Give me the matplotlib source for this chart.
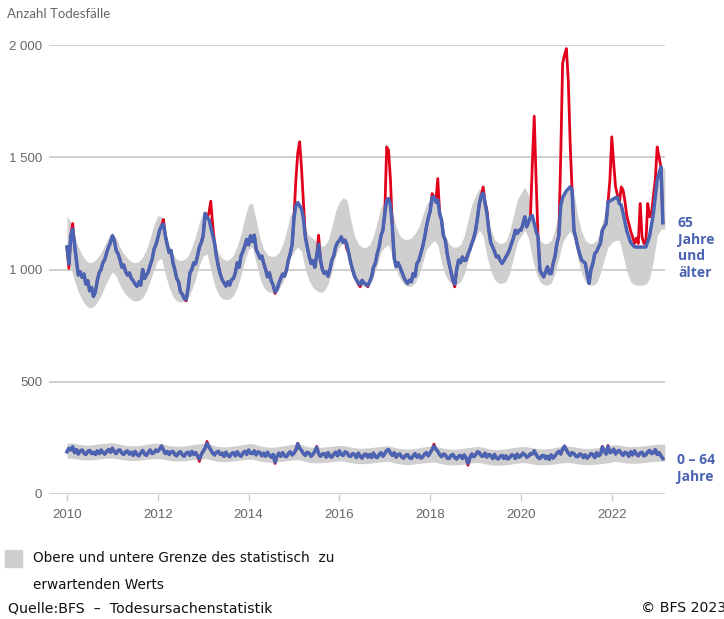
import numpy as np
import matplotlib.pyplot as plt

# Beobachtete Todesfälle pro Woche, Halbmonatswerte ab Jan 2010
obs_65 = [
    1100, 1005, 1150, 1205, 1110, 1040, 975, 990, 965, 980, 935, 950,
    905, 920, 880, 900, 950, 985, 1000, 1030, 1045, 1075, 1100, 1120,      # 2010
    1150, 1130, 1085, 1070, 1045, 1010, 1020, 990, 975, 985, 960, 950,
    935, 925, 945, 930, 1000, 960, 975, 990, 1020, 1045, 1090, 1110,       # 2011
    1140, 1175, 1195, 1223, 1150, 1110, 1075, 1085, 1030, 1000, 960, 945,
    900, 890, 870, 860, 915, 985, 1000, 1030, 1025, 1060, 1100, 1120,      # 2012
    1150, 1250, 1230, 1250, 1304, 1200, 1119, 1060, 1015, 980, 955, 940,
    926, 945, 930, 955, 960, 985, 1030, 1010, 1060, 1080, 1104, 1134,      # 2013
    1110, 1150, 1125, 1153, 1090, 1071, 1050, 1060, 1027, 1000, 967, 985,
    950, 930, 893, 910, 938, 960, 980, 970, 997, 1040, 1071, 1110,         # 2014
    1230, 1400, 1520, 1569, 1450, 1300, 1145, 1101, 1060, 1027, 1040, 1010,
    1060, 1153, 1042, 1000, 982, 990, 970, 1000, 1042, 1060, 1101, 1120,   # 2015
    1130, 1145, 1120, 1131, 1090, 1071, 1030, 997, 970, 952, 935, 923,
    952, 940, 935, 923, 945, 967, 1010, 1027, 1070, 1101, 1150, 1175,      # 2016
    1249, 1546, 1531, 1398, 1190, 1050, 1012, 1030, 1012, 990, 967, 950,
    938, 952, 945, 982, 970, 1027, 1040, 1070, 1101, 1140, 1190, 1230,     # 2017
    1260, 1338, 1324, 1300, 1405, 1250, 1220, 1150, 1131, 1070, 1027, 990,
    952, 923, 1000, 1042, 1030, 1056, 1040, 1042, 1070, 1090, 1116, 1140,  # 2018
    1175, 1230, 1294, 1330, 1368, 1300, 1264, 1175, 1120, 1101, 1080, 1056,
    1060, 1040, 1027, 1040, 1056, 1070, 1090, 1116, 1140, 1175, 1160, 1175,  # 2019
    1175, 1200, 1235, 1190, 1210, 1235, 1472, 1683, 1398, 1145, 997, 980,
    967, 990, 1012, 982, 982, 1027, 1060, 1116, 1150, 1500, 1918, 1955,    # 2020
    1984, 1843, 1561, 1353, 1175, 1140, 1101, 1070, 1042, 1035, 1027, 980,
    938, 1000, 1027, 1071, 1080, 1100, 1116, 1175, 1190, 1205, 1300, 1398,  # 2021
    1591, 1472, 1368, 1330, 1294, 1368, 1353, 1300, 1235, 1205, 1170, 1145,
    1116, 1140, 1116, 1294, 1145, 1116, 1116, 1294, 1235, 1250, 1324, 1400,  # 2022
    1546, 1500, 1457, 1208,                                                 # 2023
]
# Obere / untere Grenze des erwarteten Werts, Monatswerte Jan 2010 - Mär 2023
hi_65 = [
    1240, 1210, 1150, 1100, 1065, 1040, 1030, 1035, 1050, 1075, 1110, 1145,
    1165, 1140, 1100, 1070, 1050, 1035, 1030, 1035, 1055, 1090, 1140, 1200,
    1240, 1235, 1170, 1110, 1070, 1045, 1040, 1045, 1060, 1100, 1150, 1210,
    1255, 1260, 1190, 1120, 1075, 1050, 1040, 1045, 1065, 1105, 1160, 1230,
    1290, 1295, 1220, 1140, 1090, 1065, 1058, 1060, 1075, 1110, 1170, 1240,
    1270, 1298, 1270, 1180, 1150, 1140, 1120, 1105, 1105, 1130, 1190, 1260,
    1300, 1320, 1310, 1220, 1150, 1115, 1100, 1098, 1110, 1150, 1210, 1280,
    1300, 1316, 1260, 1190, 1150, 1135, 1134, 1140, 1160, 1190, 1240, 1290,
    1310, 1331, 1310, 1220, 1150, 1115, 1100, 1100, 1110, 1150, 1220, 1290,
    1330, 1361, 1340, 1250, 1180, 1135, 1118, 1116, 1125, 1170, 1240, 1310,
    1340, 1368, 1330, 1240, 1170, 1130, 1116, 1116, 1130, 1180, 1250, 1320,
    1350, 1368, 1340, 1240, 1170, 1130, 1116, 1116, 1130, 1180, 1240, 1300,
    1310, 1320, 1324, 1250, 1170, 1120, 1101, 1100, 1100, 1100, 1150, 1250,
    1400, 1457, 1450,
]
lo_65 = [
    1040, 1010, 950, 900, 865, 840, 829, 835, 855, 885, 925, 960,
    990, 970, 930, 900, 880, 865, 859, 862, 875, 905, 950, 1000,
    1040, 1050, 980, 920, 880, 860, 855, 858, 875, 910, 960, 1020,
    1060, 1070, 1000, 930, 890, 870, 866, 868, 885, 920, 975, 1040,
    1090, 1100, 1030, 960, 920, 902, 898, 900, 912, 940, 990, 1050,
    1080, 1100, 1080, 1000, 950, 920, 905, 898, 905, 935, 990, 1060,
    1100, 1120, 1110, 1030, 970, 940, 926, 924, 932, 965, 1020, 1080,
    1100, 1110, 1060, 1000, 960, 935, 924, 926, 940, 975, 1030, 1090,
    1110, 1130, 1110, 1030, 975, 945, 935, 935, 945, 980, 1040, 1100,
    1140, 1175, 1150, 1060, 995, 955, 940, 938, 945, 985, 1050, 1120,
    1150, 1175, 1140, 1050, 985, 945, 932, 930, 940, 985, 1050, 1120,
    1150, 1170, 1140, 1050, 985, 945, 932, 930, 940, 985, 1045, 1100,
    1120, 1130, 1130, 1060, 990, 945, 932, 930, 930, 935, 960, 1040,
    1150, 1180, 1180,
]

obs_064 = [
    188, 204, 196, 210, 184, 198, 178, 192, 196, 182, 176, 190,
    194, 180, 186, 176, 192, 180, 196, 184, 178, 190, 198, 186,   # 2010
    204, 188, 180, 194, 196, 182, 176, 188, 192, 178, 186, 172,
    190, 176, 170, 184, 194, 178, 172, 186, 196, 180, 184, 196,   # 2011
    190, 200, 214, 196, 180, 190, 176, 188, 190, 176, 170, 184,
    188, 174, 168, 182, 186, 172, 190, 176, 184, 170, 145, 176,   # 2012
    190, 204, 234, 212, 196, 182, 174, 186, 190, 176, 182, 168,
    186, 172, 166, 180, 184, 170, 188, 174, 168, 182, 190, 176,   # 2013
    196, 182, 180, 192, 174, 188, 184, 170, 182, 168, 186, 172,
    164, 176, 136, 168, 182, 168, 184, 170, 166, 180, 188, 174,   # 2014
    182, 196, 226, 204, 194, 180, 172, 186, 182, 168, 176, 190,
    212, 180, 168, 178, 180, 164, 184, 168, 164, 178, 186, 170,   # 2015
    192, 176, 172, 188, 184, 170, 168, 180, 176, 162, 182, 168,
    160, 174, 178, 164, 176, 162, 182, 166, 162, 176, 184, 168,   # 2016
    180, 194, 198, 182, 172, 184, 164, 176, 178, 164, 160, 172,
    176, 162, 158, 170, 180, 164, 174, 160, 164, 178, 184, 170,   # 2017
    184, 198, 222, 200, 190, 176, 166, 178, 174, 160, 158, 172,
    176, 162, 156, 168, 172, 158, 174, 160, 128, 162, 178, 166,   # 2018
    174, 188, 184, 170, 168, 182, 164, 176, 172, 158, 176, 160,
    156, 168, 172, 158, 170, 156, 162, 174, 172, 158, 178, 164,   # 2019
    170, 182, 176, 164, 168, 180, 178, 192, 176, 162, 158, 170,
    172, 158, 168, 154, 174, 160, 170, 182, 190, 178, 200, 214,   # 2020
    196, 182, 172, 184, 180, 168, 166, 178, 176, 162, 174, 160,
    168, 180, 176, 162, 184, 170, 176, 212, 192, 178, 216, 184,   # 2021
    188, 200, 178, 190, 194, 180, 172, 186, 182, 168, 188, 174,
    192, 178, 170, 182, 186, 170, 174, 188, 194, 180, 184, 198,   # 2022
    176, 184, 170, 158,                                           # 2023
]
hi_064 = [
    226, 228, 226, 222, 220, 218, 218, 220, 222, 224, 226, 228,
    228, 226, 222, 218, 216, 215, 215, 216, 218, 221, 224, 226,
    226, 224, 220, 216, 214, 213, 213, 214, 216, 219, 222, 224,
    226, 226, 220, 216, 212, 210, 210, 211, 213, 216, 219, 222,
    224, 224, 220, 215, 211, 209, 208, 209, 211, 214, 217, 220,
    222, 223, 220, 214, 210, 208, 208, 208, 209, 211, 213, 215,
    216, 216, 213, 209, 206, 204, 204, 205, 206, 208, 210, 212,
    214, 214, 210, 206, 203, 201, 200, 201, 203, 206, 209, 211,
    213, 214, 210, 206, 202, 200, 199, 200, 202, 204, 207, 209,
    211, 211, 208, 204, 200, 198, 198, 199, 201, 204, 207, 209,
    211, 212, 209, 206, 203, 201, 201, 202, 204, 207, 210, 212,
    213, 213, 210, 207, 204, 203, 203, 204, 206, 208, 210, 212,
    218, 220, 218, 215, 212, 211, 211, 212, 214, 216, 218, 220,
    222, 222, 222,
]
lo_064 = [
    158, 160, 158, 155, 153, 152, 152, 153, 155, 157, 159, 160,
    160, 158, 155, 152, 150, 149, 149, 150, 152, 154, 156, 158,
    158, 157, 153, 150, 148, 147, 147, 148, 150, 152, 154, 156,
    157, 157, 152, 148, 145, 144, 144, 145, 147, 149, 151, 153,
    155, 155, 151, 147, 144, 142, 141, 142, 144, 146, 148, 150,
    152, 153, 150, 145, 141, 139, 139, 139, 140, 142, 144, 146,
    147, 147, 144, 140, 137, 135, 135, 136, 137, 139, 141, 143,
    145, 145, 141, 137, 134, 132, 131, 132, 134, 136, 138, 140,
    142, 143, 139, 135, 132, 130, 129, 130, 131, 133, 136, 138,
    140, 140, 137, 133, 130, 128, 128, 129, 130, 132, 135, 137,
    139, 140, 137, 134, 131, 130, 130, 131, 132, 134, 137, 139,
    140, 140, 137, 134, 132, 131, 131, 132, 133, 135, 137, 139,
    143, 145, 143, 140, 138, 137, 137, 138, 139, 141, 143, 145,
    146, 146, 146,
]

year_ticks = [2010, 2012, 2014, 2016, 2018, 2020, 2022]
y_ticks = [0, 500, 1000, 1500, 2000]
y_labels = ["0", "500", "1 000", "1 500", "2 000"]

RED = "#e2001a"
BLUE = "#4a63b3"
BAND = "#cfcfcf"
GRID = "#cccccc"
TXT = "#666666"

W, H = 724, 619
fig = plt.figure(figsize=(W / 100, H / 100), dpi=100)
ax = fig.add_axes([49 / W, 1 - 494 / H, 616 / W, 449 / H])

for obs, lo, hi in [(obs_65, lo_65, hi_65), (obs_064, lo_064, hi_064)]:
    obs = np.array(obs)
    t_band = 2010 + np.arange(len(lo)) / 12
    t_obs = 2010 + np.arange(len(obs)) / 24
    ax.fill_between(t_band, lo, hi, color=BAND, lw=0, zorder=1)
    # red = whole series, blue = series held inside the drawn band
    lo_edge = np.interp(t_obs, t_band, lo)
    hi_edge = np.interp(t_obs, t_band, hi)
    ax.plot(t_obs, obs, color=RED, lw=2, zorder=2)
    ax.plot(t_obs, np.clip(obs, lo_edge, hi_edge), color=BLUE, lw=2.5,
            zorder=3)

ax.set_xlim(2009.604, 2023.172)
ax.set_ylim(0, 2000)
ax.set_yticks(y_ticks)
ax.set_yticklabels(y_labels)
ax.set_xticks(year_ticks)
ax.set_xticklabels([str(y) for y in year_ticks])
ax.yaxis.grid(True, color=GRID, lw=1.3, zorder=0)
for s in ax.spines.values():
    s.set_visible(False)
ax.tick_params(axis="y", length=0, pad=5, labelcolor=TXT, labelsize=9.5)
ax.tick_params(axis="x", length=5, width=1, color=GRID, pad=6,
               labelcolor=TXT, labelsize=9.5)
for lab in ax.get_xticklabels() + ax.get_yticklabels():
    lab.set_family("Liberation Sans")

fig.text(7 / W, 1 - 14 / H, "Anzahl Todesfälle", color=TXT, fontsize=9.5,
         va="center", ha="left", family="Lato")

fig.text(678 / W, 1 - 216 / H, "65\nJahre\nund\nälter", color=BLUE,
         fontsize=10, fontweight="bold", va="top", ha="left",
         linespacing=1.25, family="Open Sans")
fig.text(677 / W, 1 - 453 / H, "0 – 64\nJahre", color=BLUE,
         fontsize=10, fontweight="bold", va="top", ha="left",
         linespacing=1.25, family="Open Sans")

# Legende und Quelle
fig.patches.append(plt.Rectangle((5 / W, 1 - 567 / H), 17 / W, 17 / H,
                                 transform=fig.transFigure, color=BAND))
narrow = ["Liberation Sans Narrow", "DejaVu Sans"]
fig.text(33 / W, 1 - 558 / H, "Obere und untere Grenze des statistisch  zu",
         fontsize=9.8, va="center", ha="left", family=narrow, color="#111111")
fig.text(33 / W, 1 - 585 / H, "erwartenden Werts",
         fontsize=9.8, va="center", ha="left", family=narrow, color="#111111")
fig.text(8 / W, 1 - 608 / H, "Quelle:BFS  –  Todesursachenstatistik",
         fontsize=10.2, va="center", ha="left", family=narrow, color="#111111")
fig.text(641 / W, 1 - 608 / H, "© BFS 2023",
         fontsize=10.2, va="center", ha="left", family=narrow, color="#111111")

fig.savefig("out.png", dpi=100)
